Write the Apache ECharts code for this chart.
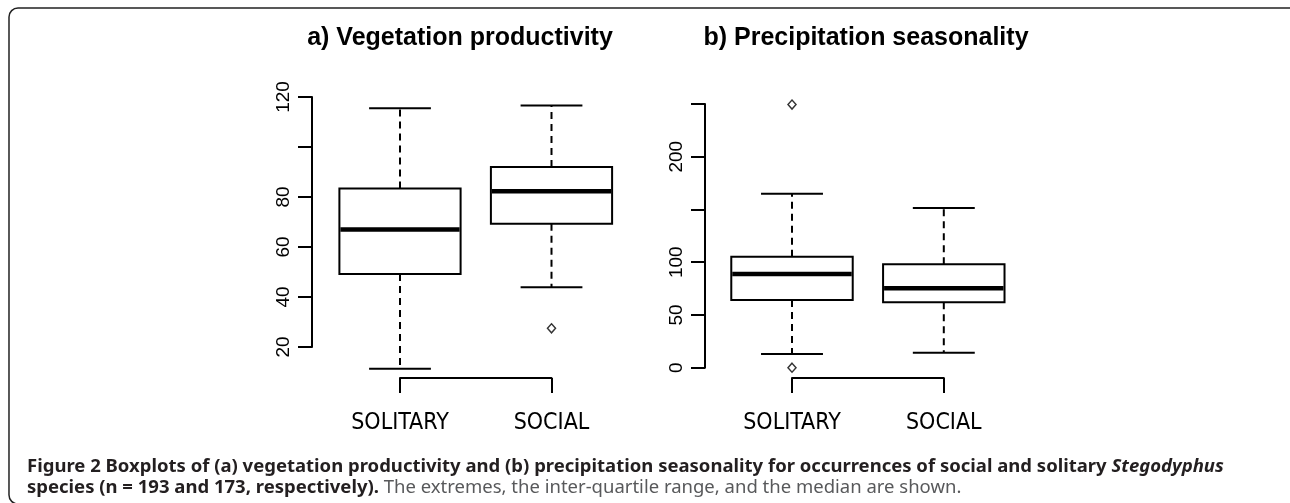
<!DOCTYPE html>
<html>
<head>
<meta charset="utf-8">
<title>Figure 2</title>
<script src="https://cdn.jsdelivr.net/npm/echarts@6/dist/echarts.min.js"></script>
<style>
  html, body { margin: 0; padding: 0; background: #fff; }
  #chart { width: 1290px; height: 503px; }
</style>
</head>
<body>
<div id="chart"></div>
<script>
  // groups along the x axis
  var categories = ['SOLITARY', 'SOCIAL'];

  // a) vegetation productivity: [min, Q1, median, Q3, max] per group
  var vegBoxes = [
    [11.3, 49.2, 67.0, 83.4, 115.5],
    [43.9, 69.3, 82.3, 92.0, 116.6]
  ];
  var vegOutliers = [[2, 27.5]];          // [group, value]
  var vegTicks = [20, 40, 60, 80, 100, 120];
  var vegLabels = [20, 40, 60, 80, 120];

  // b) precipitation seasonality
  var precBoxes = [
    [13.0, 64.2, 88.9, 105.3, 165.0],
    [14.2, 62.0, 75.3, 98.0, 151.5]
  ];
  var precOutliers = [[1, 249.5], [1, 0]];
  var precTicks = [0, 50, 100, 150, 200, 250];
  var precLabels = [0, 50, 100, 200];

  var AXIS_FONT = '"Liberation Sans", Arial, sans-serif';
  var NARROW_FONT = '"DejaVu Sans Condensed", "DejaVu Sans", sans-serif';
  var CAPTION_FONT = '"Noto Sans", "Open Sans", sans-serif';

  var myChart = echarts.init(document.getElementById('chart'));

  function boxRows(boxes) {
    return boxes.map(function (b, i) { return [i + 1].concat(b); });
  }

  // R style box: dashed whiskers, caps, box and heavy median
  function renderBox(params, api) {
    var x = api.value(0);
    var p = [1, 2, 3, 4, 5].map(function (k) { return api.coord([x, api.value(k)]); });
    var cx = p[0][0];
    var unit = api.size([1, 0])[0];
    var bw = unit * 0.4, cw = unit * 0.204;
    var solid = { stroke: '#000', lineWidth: 2 };
    var dash = { stroke: '#000', lineWidth: 2, lineDash: [7, 5] };
    return {
      type: 'group',
      children: [
        { type: 'line', shape: { x1: cx, y1: p[3][1], x2: cx, y2: p[4][1] }, style: dash },
        { type: 'line', shape: { x1: cx, y1: p[1][1], x2: cx, y2: p[0][1] }, style: dash },
        { type: 'line', shape: { x1: cx - cw, y1: p[4][1], x2: cx + cw, y2: p[4][1] }, style: solid },
        { type: 'line', shape: { x1: cx - cw, y1: p[0][1], x2: cx + cw, y2: p[0][1] }, style: solid },
        { type: 'rect', shape: { x: cx - bw, y: p[3][1], width: 2 * bw, height: p[1][1] - p[3][1] },
          style: { fill: '#fff', stroke: '#000', lineWidth: 2 } },
        { type: 'line', shape: { x1: cx - bw + 1, y1: p[2][1], x2: cx + bw - 1, y2: p[2][1] },
          style: { stroke: '#000', lineWidth: 4.5 } }
      ]
    };
  }

  function xAxisFor(gridIndex, offset) {
    return {
      type: 'value', gridIndex: gridIndex,
      min: 1, max: categories.length, interval: 1, offset: offset,
      axisLine: { show: true, onZero: false, lineStyle: { color: '#000', width: 2 } },
      axisTick: { show: true, length: 15, lineStyle: { color: '#000', width: 2 } },
      splitLine: { show: false },
      axisLabel: {
        margin: 34, fontSize: 23, color: '#000', fontFamily: NARROW_FONT,
        formatter: function (v) { return categories[v - 1] || ''; }
      }
    };
  }

  function yAxisFor(gridIndex, ticks, labels, offset) {
    return {
      type: 'value', gridIndex: gridIndex,
      min: ticks[0], max: ticks[ticks.length - 1], interval: ticks[1] - ticks[0],
      offset: offset,
      axisLine: { show: true, onZero: false, lineStyle: { color: '#000', width: 2 } },
      axisTick: { show: true, length: 14, lineStyle: { color: '#000', width: 2 } },
      splitLine: { show: false },
      axisLabel: {
        rotate: 90, margin: 19, fontSize: 19, color: '#000', fontFamily: AXIS_FONT,
        formatter: function (v) { return labels.indexOf(v) >= 0 ? String(v) : ''; }
      }
    };
  }

  function outlierSeries(idx, data) {
    return {
      type: 'scatter', xAxisIndex: idx, yAxisIndex: idx,
      symbol: 'diamond', symbolSize: [8, 9], data: data, z: 5,
      itemStyle: { color: '#fff', borderColor: '#000', borderWidth: 1.5 }
    };
  }

  myChart.setOption({
    animation: false,
    backgroundColor: '#fff',
    grid: [
      { left: 400, top: 97, width: 151.5, height: 250 },
      { left: 792, top: 104, width: 151.8, height: 263.7 }
    ],
    xAxis: [xAxisFor(0, 31), xAxisFor(1, 10.3)],
    yAxis: [yAxisFor(0, vegTicks, vegLabels, 88), yAxisFor(1, precTicks, precLabels, 87)],
    series: [
      { type: 'custom', xAxisIndex: 0, yAxisIndex: 0, renderItem: renderBox,
        encode: { x: 0, y: [1, 2, 3, 4, 5] }, data: boxRows(vegBoxes) },
      outlierSeries(0, vegOutliers),
      { type: 'custom', xAxisIndex: 1, yAxisIndex: 1, renderItem: renderBox,
        encode: { x: 0, y: [1, 2, 3, 4, 5] }, data: boxRows(precBoxes) },
      outlierSeries(1, precOutliers)
    ],
    graphic: [
      { type: 'rect', silent: true,
        shape: { x: 9, y: 8, width: 1300, height: 496, r: 9 },
        style: { fill: 'none', stroke: '#222', lineWidth: 1.5 } },
      { type: 'text', silent: true,
        style: { x: 460, y: 38, text: 'a) Vegetation productivity', textAlign: 'center', textVerticalAlign: 'middle',
          fontFamily: AXIS_FONT, fontWeight: 'bold', fontSize: 25, fill: '#000' } },
      { type: 'text', silent: true,
        style: { x: 866, y: 38, text: 'b) Precipitation seasonality', textAlign: 'center', textVerticalAlign: 'middle',
          fontFamily: AXIS_FONT, fontWeight: 'bold', fontSize: 25, fill: '#000' } },
      { type: 'text', silent: true,
        style: { x: 27, y: 467, textVerticalAlign: 'middle',
          text: '{b|Figure 2 Boxplots of (a) vegetation productivity and (b) precipitation seasonality for occurrences of social and solitary }{bi|Stegodyphus}',
          rich: {
            b: { fontFamily: CAPTION_FONT, fontWeight: 'bold', fontSize: 18.5, fill: '#231f20' },
            bi: { fontFamily: CAPTION_FONT, fontWeight: 'bold', fontStyle: 'italic', fontSize: 18.5, fill: '#231f20' }
          } } },
      { type: 'text', silent: true,
        style: { x: 27, y: 487.5, textVerticalAlign: 'middle',
          text: '{b|species (n = 193 and 173, respectively).}{n| The extremes, the inter-quartile range, and the median are shown.}',
          rich: {
            b: { fontFamily: CAPTION_FONT, fontWeight: 'bold', fontSize: 18.5, fill: '#231f20' },
            n: { fontFamily: CAPTION_FONT, fontSize: 18.5, fill: '#58595b' }
          } } }
    ]
  });
</script>
</body>
</html>
